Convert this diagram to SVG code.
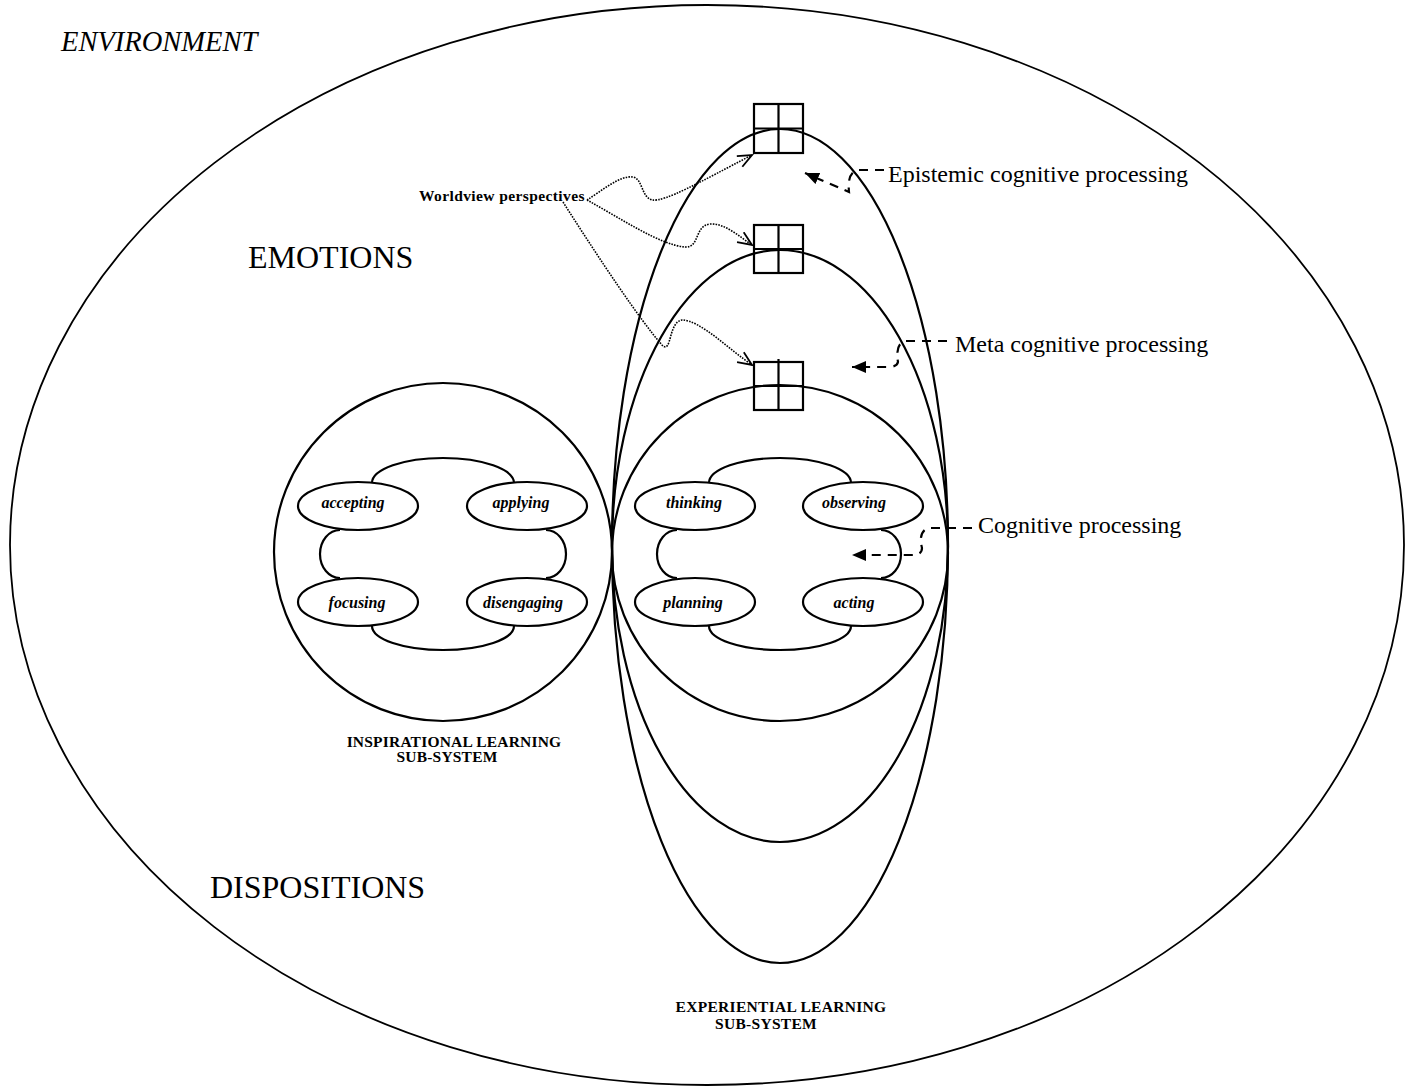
<svg xmlns="http://www.w3.org/2000/svg" width="1415" height="1088" viewBox="0 0 1415 1088">
<style>
.ln{fill:none;stroke:#000;stroke-width:2.2}
.thin{fill:none;stroke:#000;stroke-width:1.8}
.dot{fill:none;stroke:#000;stroke-width:1.6;stroke-dasharray:1.6 1.2}
.dash{fill:none;stroke:#000;stroke-width:2.2;stroke-dasharray:9 7}
.t{font-family:"Liberation Serif","Times New Roman",serif;fill:#000}
.big{font-size:32px}
.proc{font-size:24px}
.lab{font-size:16px;font-weight:bold;font-style:italic}
.sub{font-size:15.5px;font-weight:bold}
</style>
<defs>
<marker id="open" markerUnits="userSpaceOnUse" markerWidth="18" markerHeight="16" refX="15" refY="7" orient="auto">
<path d="M1,1 L15,7 L1,13" fill="none" stroke="#000" stroke-width="1.8"/>
</marker>
<marker id="fill" markerUnits="userSpaceOnUse" markerWidth="16" markerHeight="14" refX="14" refY="6" orient="auto">
<path d="M0,0 L14,6 L0,12 Z" fill="#000"/>
</marker>
</defs>
<rect width="1415" height="1088" fill="#fff"/>

<g id="environment">
<ellipse class="thin" cx="707" cy="545" rx="697" ry="540"/>
<text class="t" x="61" y="51" font-size="28.5" font-style="italic">ENVIRONMENT</text>
</g>
<text id="emotions" class="t big" x="248" y="268">EMOTIONS</text>
<text id="dispositions" class="t big" x="210" y="898">DISPOSITIONS</text>

<g id="inspirational">
<circle class="ln" cx="443" cy="552" r="169"/>
<path class="ln" d="M372,483 A71,25 0 0 1 514,483"/>
<path class="ln" d="M372,626 A71,24 0 0 0 514,626"/>
<path class="ln" d="M340,530 A20,24 0 0 0 340,578"/>
<path class="ln" d="M546,530 A20,24 0 0 1 546,578"/>
<ellipse class="ln" cx="358" cy="506" rx="60" ry="24"/>
<ellipse class="ln" cx="527" cy="506" rx="60" ry="24"/>
<ellipse class="ln" cx="358" cy="602" rx="60" ry="24"/>
<ellipse class="ln" cx="527" cy="602" rx="60" ry="24"/>
<text class="t lab" x="353" y="508" text-anchor="middle">accepting</text>
<text class="t lab" x="521" y="508" text-anchor="middle">applying</text>
<text class="t lab" x="357" y="608" text-anchor="middle">focusing</text>
<text class="t lab" x="523" y="608" text-anchor="middle">disengaging</text>
<text class="t sub" x="454" y="747" text-anchor="middle" letter-spacing="0.2">INSPIRATIONAL LEARNING</text>
<text class="t sub" x="447" y="762" text-anchor="middle" letter-spacing="0.2">SUB-SYSTEM</text>
</g>

<g id="experiential">
<ellipse class="ln" cx="780" cy="546" rx="168" ry="417"/>
<ellipse class="ln" cx="780" cy="546" rx="168" ry="296"/>
<circle class="ln" cx="780" cy="553" r="168"/>
<path class="ln" d="M709,483 A71,25 0 0 1 851,483"/>
<path class="ln" d="M709,626 A71,24 0 0 0 851,626"/>
<path class="ln" d="M677,530 A20,24 0 0 0 677,578"/>
<path class="ln" d="M881,530 A20,24 0 0 1 881,578"/>
<ellipse class="ln" cx="695" cy="506" rx="60" ry="24"/>
<ellipse class="ln" cx="863" cy="506" rx="60" ry="24"/>
<ellipse class="ln" cx="695" cy="602" rx="60" ry="24"/>
<ellipse class="ln" cx="863" cy="602" rx="60" ry="24"/>
<text class="t lab" x="694" y="508" text-anchor="middle">thinking</text>
<text class="t lab" x="854" y="508" text-anchor="middle">observing</text>
<text class="t lab" x="693" y="608" text-anchor="middle">planning</text>
<text class="t lab" x="854" y="608" text-anchor="middle">acting</text>
<text class="t sub" x="781" y="1012" text-anchor="middle" letter-spacing="0.3">EXPERIENTIAL LEARNING</text>
<text class="t sub" x="766" y="1029" text-anchor="middle" letter-spacing="0.3">SUB-SYSTEM</text>
</g>

<g id="worldview-box-1">
<rect class="ln" x="754" y="104" width="49" height="49"/>
<path class="ln" d="M778.5,104 V153 M754,128.5 H803"/>
</g>
<g id="worldview-box-2">
<rect class="ln" x="754" y="225" width="49" height="48"/>
<path class="ln" d="M778.5,225 V273 M754,249 H803"/>
</g>
<g id="worldview-box-3">
<rect class="ln" x="754" y="362" width="49" height="48"/>
<path class="ln" d="M778.5,359 V410 M754,386 H803"/>
</g>

<text id="worldview" class="t" x="419" y="201" font-size="15.5" font-weight="bold" letter-spacing="0.4">Worldview perspectives</text>
<text id="epistemic" class="t proc" x="888" y="182">Epistemic cognitive processing</text>
<text id="meta" class="t proc" x="955" y="352">Meta cognitive processing</text>
<text id="cognitive" class="t proc" x="978" y="533">Cognitive processing</text>

<g id="connectors">
<path class="dot" marker-end="url(#open)" d="M587,200 C600,192 620,175 633,177 C643,179 641,197 652,200 C665,202 700,182 752,155"/>
<path class="dot" marker-end="url(#open)" d="M587,200 C620,218 660,245 685,247 C700,248 694,226 710,224 C725,223 740,237 752,245"/>
<path class="dot" marker-end="url(#open)" d="M563,202 C600,260 640,320 662,345 C672,355 668,322 682,320 C700,320 730,350 752,365"/>
<path class="dash" marker-end="url(#fill)" d="M884,170 L858,170 Q847,172 849,192 L805,173"/>
<path class="dash" marker-end="url(#fill)" d="M947,341 L905,341 Q895,344 898,362 Q897,367 888,367 L852,367"/>
<path class="dash" marker-end="url(#fill)" d="M972,528 L928,528 Q918,532 922,548 Q922,555 912,555 L852,555"/>
</g>
</svg>
